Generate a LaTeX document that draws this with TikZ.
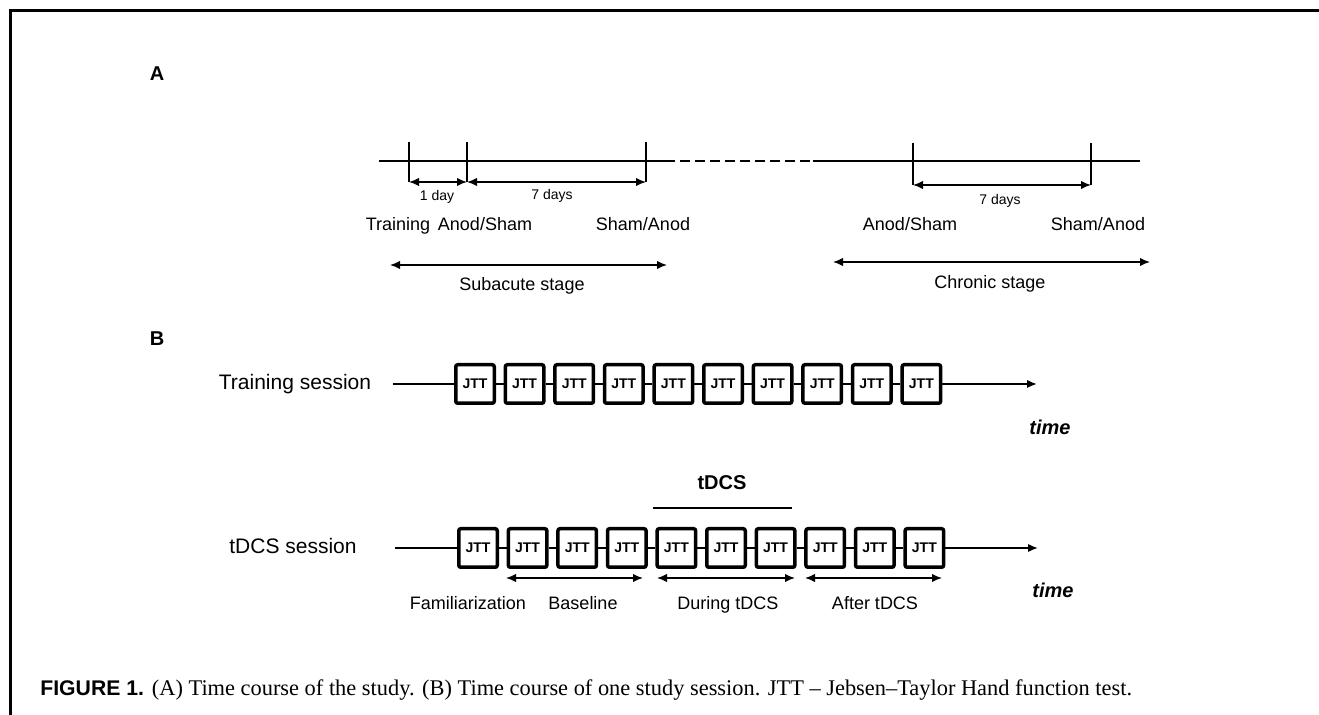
\documentclass[tikz,border=0pt]{standalone}
\usepackage{fontspec}
\setmainfont{Liberation Sans}
\newfontfamily\capfont{Liberation Serif}
\usetikzlibrary{arrows.meta}
\tikzset{
  >={Latex[length=5pt,width=4.2pt]},
  jtt/.style={shape=rectangle,draw=black,line width=1.75pt,rounded corners=1pt,minimum width=19.25pt,minimum height=19.25pt,inner sep=0pt,font=\bfseries\fontsize{7}{8}\selectfont},
  lbl/.style={font=\fontsize{9}{10}\selectfont,text height=0.72em,text depth=0.22em},
  small/.style={font=\fontsize{7}{8}\selectfont,text height=0.72em,text depth=0.22em},
  panel/.style={font=\bfseries\fontsize{10}{12}\selectfont},
  sess/.style={font=\fontsize{10.5}{12}\selectfont,text height=0.72em,text depth=0.22em},
  timelbl/.style={font=\bfseries\itshape\fontsize{10}{12}\selectfont},
  axis/.style={line width=1.25pt},
  link/.style={line width=0.9pt},
  span/.style={line width=0.75pt}
}
\begin{document}
\begin{tikzpicture}[x=0.5pt,y=-0.5pt]
    \useasboundingbox (0,0) rectangle (1319,715);
    \draw[line width=1.5pt] (1319,11) -- (10,11) -- (10,715);
    \node[panel] (pA) at (157,74) {A};
    \coordinate (a0) at (379,161);
    \coordinate (a1) at (1140,161);
    \coordinate (d0) at (665,161);
    \coordinate (d1) at (813,161);
    \coordinate (k1) at (409,142);
    \coordinate (k1b) at (409,182);
    \coordinate (k2) at (467,142);
    \coordinate (k2b) at (467,182);
    \coordinate (k3) at (646,142);
    \coordinate (k3b) at (646,182);
    \coordinate (k4) at (913,143);
    \coordinate (k4b) at (913,185);
    \coordinate (k5) at (1091,143);
    \coordinate (k5b) at (1091,185);
    \draw[axis] (a0) -- (d0);
    \draw[axis,dash pattern=on 5pt off 2.5pt] (d0) -- (d1);
    \draw[axis] (d1) -- (a1);
    \draw[axis] (k1) -- (k1b);
    \draw[axis] (k2) -- (k2b);
    \draw[axis] (k3) -- (k3b);
    \draw[axis] (k4) -- (k4b);
    \draw[axis] (k5) -- (k5b);
    \path [<->,span](k1b) edge (k2b);
    \path [<->,span](k2b) edge (k3b);
    \path [<->,span](k4b) edge (k5b);
    \node[small] (d1day) at (437,196) {1 day};
    \node[small] (d7a) at (552,195) {7 days};
    \node[small] (d7b) at (1000,200) {7 days};
    \node[lbl] (tr) at (398,226) {Training};
    \node[lbl] (as1) at (485,226) {Anod/Sham};
    \node[lbl] (sa1) at (643,226) {Sham/Anod};
    \node[lbl] (as2) at (910,226) {Anod/Sham};
    \node[lbl] (sa2) at (1098,226) {Sham/Anod};
    \coordinate (sub0) at (390,265);
    \coordinate (sub1) at (667,265);
    \coordinate (chr0) at (833,262);
    \coordinate (chr1) at (1150,262);
    \path [<->,span](sub0) edge (sub1);
    \path [<->,span](chr0) edge (chr1);
    \node[lbl] (sub) at (522,286) {Subacute stage};
    \node[lbl] (chr) at (990,284) {Chronic stage};
    \node[panel] (pB) at (157,339) {B};
    \node[sess] (trs) at (295,385) {Training session};
    \coordinate (t0) at (393,384);
    \coordinate (tend) at (1037,384);
    \node[jtt] (T1) at (475,384) {JTT};
    \node[jtt] (T2) at (524.6,384) {JTT};
    \node[jtt] (T3) at (574.2,384) {JTT};
    \node[jtt] (T4) at (623.8,384) {JTT};
    \node[jtt] (T5) at (673.4,384) {JTT};
    \node[jtt] (T6) at (723,384) {JTT};
    \node[jtt] (T7) at (772.6,384) {JTT};
    \node[jtt] (T8) at (822.2,384) {JTT};
    \node[jtt] (T9) at (871.8,384) {JTT};
    \node[jtt] (T10) at (921.4,384) {JTT};
    \path [link](t0) edge (T1);
    \path [link](T1) edge (T2);
    \path [link](T2) edge (T3);
    \path [link](T3) edge (T4);
    \path [link](T4) edge (T5);
    \path [link](T5) edge (T6);
    \path [link](T6) edge (T7);
    \path [link](T7) edge (T8);
    \path [link](T8) edge (T9);
    \path [link](T9) edge (T10);
    \path [->,link](T10) edge (tend);
    \node[timelbl] (tm1) at (1050,427) {time};
    \node[sess] (tds) at (293,549) {tDCS session};
    \coordinate (s0) at (395,548);
    \coordinate (send) at (1038,548);
    \node[jtt] (S1) at (478,548) {JTT};
    \node[jtt] (S2) at (527.6,548) {JTT};
    \node[jtt] (S3) at (577.2,548) {JTT};
    \node[jtt] (S4) at (626.8,548) {JTT};
    \node[jtt] (S5) at (676.4,548) {JTT};
    \node[jtt] (S6) at (726,548) {JTT};
    \node[jtt] (S7) at (775.6,548) {JTT};
    \node[jtt] (S8) at (825.2,548) {JTT};
    \node[jtt] (S9) at (874.8,548) {JTT};
    \node[jtt] (S10) at (924.4,548) {JTT};
    \path [link](s0) edge (S1);
    \path [link](S1) edge (S2);
    \path [link](S2) edge (S3);
    \path [link](S3) edge (S4);
    \path [link](S4) edge (S5);
    \path [link](S5) edge (S6);
    \path [link](S6) edge (S7);
    \path [link](S7) edge (S8);
    \path [link](S8) edge (S9);
    \path [link](S9) edge (S10);
    \path [->,link](S10) edge (send);
    \node[timelbl] (tm2) at (1053,590) {time};
    \coordinate (bar0) at (653,508);
    \coordinate (bar1) at (792,508);
    \draw[axis] (bar0) -- (bar1);
    \node[panel] (tdcs) at (722,483) {tDCS};
    \coordinate (b0) at (506,578);
    \coordinate (b1) at (643,578);
    \coordinate (b2) at (657,578);
    \coordinate (b3) at (795,578);
    \coordinate (b4) at (805,578);
    \coordinate (b5) at (942,578);
    \path [<->,span](b0) edge (b1);
    \path [<->,span](b2) edge (b3);
    \path [<->,span](b4) edge (b5);
    \node[lbl] (fam) at (468,605) {Familiarization};
    \node[lbl] (base) at (583,605) {Baseline};
    \node[lbl] (dur) at (728,605) {During tDCS};
    \node[lbl] (aft) at (875,605) {After tDCS};
    \node[anchor=west,inner sep=0pt] (cap) at (40,690) {\bfseries\fontsize{10.6}{12}\selectfont FIGURE 1. \capfont\mdseries\fontsize{11.2}{13}\selectfont (A) Time course of the study. (B) Time course of one study session. JTT – Jebsen–Taylor Hand function test.};
  \end{tikzpicture}
\end{document}
